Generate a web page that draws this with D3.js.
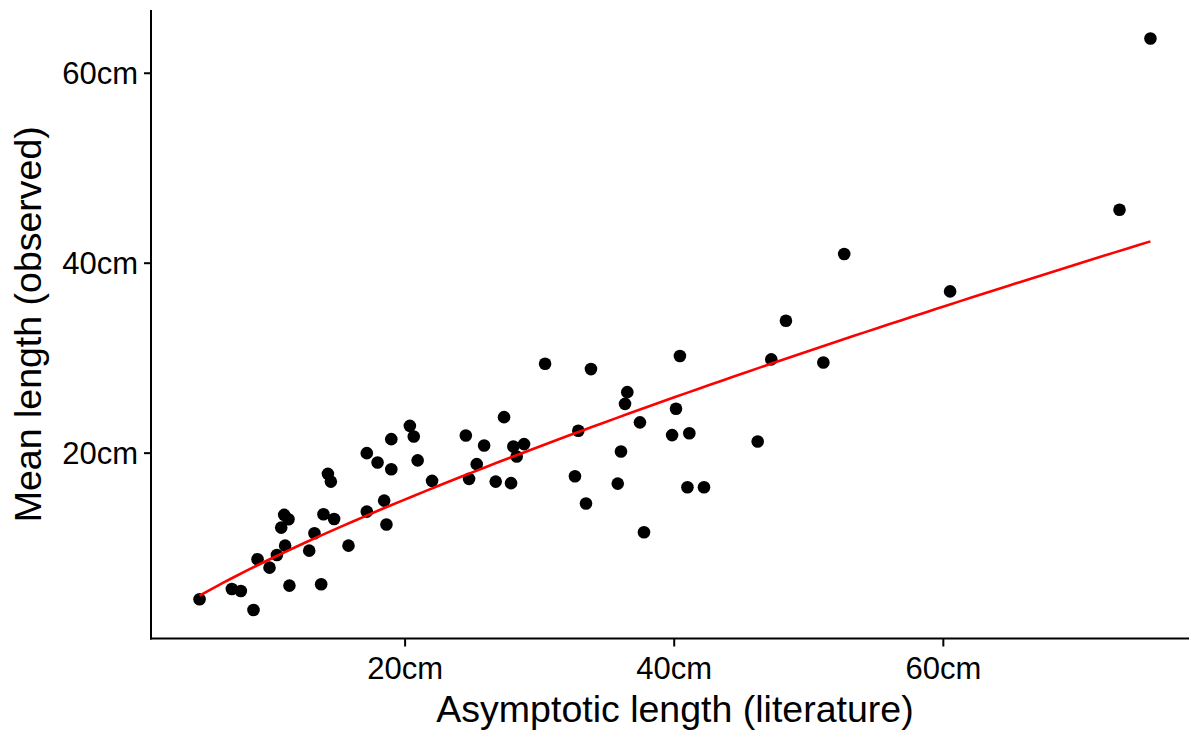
<!DOCTYPE html>
<html>
<head>
<meta charset="utf-8">
<script src="https://cdn.jsdelivr.net/npm/d3@7"></script>
<style>
    body { margin: 0; background: #fff; }
    text { font-family: "Liberation Sans", Arial, sans-serif; }
</style>
</head>
<body>
<div id="graph1"></div>
<script>
// asymptotic length from literature (cm)
var lengthLit = [4.76, 7.16, 7.83, 8.77, 9.07, 9.96, 10.51, 11.12, 10.83, 11.05, 11.37, 11.44,
    12.91, 13.30, 13.80, 13.97, 14.76, 14.30, 14.52, 15.83, 17.19, 17.99, 19.01, 19.01,
    18.48, 17.19, 18.65, 20.39, 20.68, 20.97, 22.04, 24.55, 25.91, 25.36, 24.79, 27.39,
    28.08, 28.88, 28.33, 26.77, 27.91, 30.44, 33.85, 32.91, 32.66, 33.48, 36.55, 36.38,
    37.49, 36.08, 35.84, 37.79, 40.46, 40.17, 39.88, 41.16, 41.02, 42.25, 46.24, 47.25,
    48.34, 51.12, 52.67, 60.54, 73.13, 75.43];
// observed mean length (cm)
var lengthObs = [4.56, 5.65, 5.44, 3.44, 8.78, 7.89, 9.23, 10.21, 12.11, 13.45, 12.99, 6.00,
    9.68, 11.52, 6.14, 13.52, 13.02, 17.77, 16.95, 10.21, 19.95, 18.96, 21.42, 18.26,
    14.95, 13.79, 12.44, 22.82, 21.70, 19.19, 17.03, 21.80, 20.75, 18.79, 17.24, 23.74,
    20.64, 20.90, 19.59, 16.95, 16.79, 29.36, 28.80, 22.30, 17.52, 14.64, 26.37, 25.14,
    23.19, 20.12, 16.74, 11.62, 30.17, 24.62, 21.85, 22.05, 16.36, 16.36, 21.17, 29.82,
    33.89, 29.49, 40.92, 36.98, 45.58, 63.60];
var tickVals = [20, 40, 60];

var margin = {top: 10, right: 0, bottom: 95, left: 152},
    width = 1046,
    height = 628.5;

var svg = d3.select("#graph1")
    .append("svg")
    .attr("width", 1189)
    .attr("height", 733)
    .append("g")
    .attr("transform", "translate(" + margin.left + "," + margin.top + ")");

var data = lengthLit.map(function (d, i) {
    return {x: d, y: lengthObs[i]};
});

// ggplot style 5% padding on both scales
function padded(ext) {
    var p = (ext[1] - ext[0]) * 0.05;
    return [ext[0] - p, ext[1] + p];
}

var x = d3.scaleLinear()
    .domain(padded(d3.extent(lengthLit)))
    .range([0, width]);
var y = d3.scaleLinear()
    .domain(padded(d3.extent(lengthObs)))
    .range([height, 0]);

// axes
var xAxis = svg.append("g")
    .attr("transform", "translate(0," + height + ")")
    .call(d3.axisBottom(x).tickValues(tickVals).tickSize(8).tickPadding(5)
        .tickFormat(function (d) { return d + "cm"; }));
var yAxis = svg.append("g")
    .call(d3.axisLeft(y).tickValues(tickVals).tickSize(8).tickPadding(6)
        .tickFormat(function (d) { return d + "cm"; }));

[xAxis, yAxis].forEach(function (a) {
    a.select(".domain").remove();
    a.selectAll("line").attr("stroke", "#000").attr("stroke-width", 2);
    a.selectAll("text").style("font-size", "31px").attr("fill", "#000");
});
xAxis.selectAll("text").attr("dy", "0.9em");
yAxis.selectAll("text").attr("dy", "0.36em");

// axis lines only left and bottom
svg.append("line")
    .attr("x1", -1).attr("x2", -1)
    .attr("y1", 0).attr("y2", height + 1)
    .attr("stroke", "#000").attr("stroke-width", 2);
svg.append("line")
    .attr("x1", -2).attr("x2", width)
    .attr("y1", height).attr("y2", height)
    .attr("stroke", "#000").attr("stroke-width", 2);

// points
svg.selectAll("myDots")
    .data(data)
    .enter()
    .append("circle")
    .attr("cx", function (d) { return x(d.x); })
    .attr("cy", function (d) { return y(d.y); })
    .attr("r", 6.3)
    .style("fill", "#000");

// log-log least squares fit, drawn over the range of the data
var lx = lengthLit.map(Math.log),
    ly = lengthObs.map(Math.log),
    mx = d3.mean(lx),
    my = d3.mean(ly);
var b = d3.sum(lx, function (d, i) { return (d - mx) * (ly[i] - my); }) /
    d3.sum(lx, function (d) { return (d - mx) * (d - mx); });
var a = my - b * mx;

var ext = d3.extent(lengthLit);
var fitData = d3.range(0, 81).map(function (i) {
    var xv = ext[0] + (ext[1] - ext[0]) * i / 80;
    return {x: xv, y: Math.exp(a + b * Math.log(xv))};
});

var line = d3.line()
    .x(function (d) { return x(d.x); })
    .y(function (d) { return y(d.y); });
svg.append("path")
    .datum(fitData)
    .attr("d", line)
    .attr("fill", "none")
    .attr("stroke", "#ff0000")
    .attr("stroke-width", 2.6);

// axis titles
svg.append("text")
    .attr("x", 675 - margin.left)
    .attr("y", height + 83)
    .attr("text-anchor", "middle")
    .style("font-size", "37.5px")
    .attr("fill", "#000")
    .text("Asymptotic length (literature)");
svg.append("text")
    .attr("transform", "translate(" + (41 - margin.left) + "," + (height / 2) + ") rotate(-90)")
    .attr("text-anchor", "middle")
    .style("font-size", "37.5px")
    .attr("fill", "#000")
    .text("Mean length (observed)");
</script>
</body>
</html>
